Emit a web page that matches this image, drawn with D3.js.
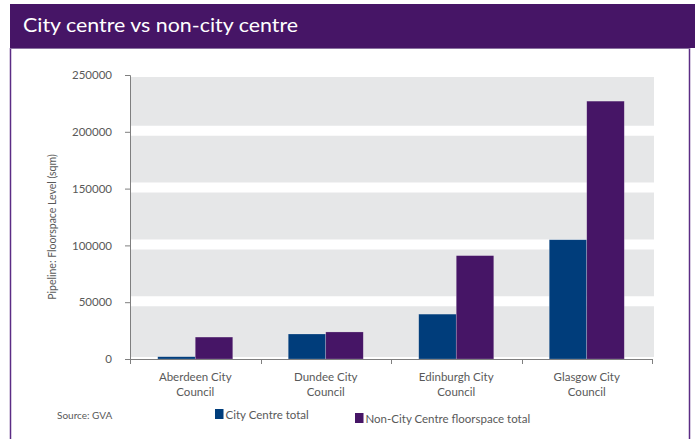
<!DOCTYPE html>
<html><head><meta charset="utf-8">
<script src="https://cdn.jsdelivr.net/npm/d3@7"></script>
<style>
body{margin:0;background:#fff;}
svg{display:block;font-family:Lato,"Open Sans",sans-serif;}
</style></head>
<body><svg id="c" width="695" height="439"></svg>
<script>
const categories = [["Aberdeen City","Council"],["Dundee City","Council"],["Edinburgh City","Council"],["Glasgow City","Council"]];
const seriesNames = ["City Centre total","Non-City Centre floorspace total"];
const cityCentre = [2000, 22000, 39500, 105000];
const nonCityCentre = [19300, 23800, 91000, 227000];
const yTicks = [0, 50000, 100000, 150000, 200000, 250000];
const colors = ["#003d7b", "#461566"];
const title = "City centre vs non-city centre";
const yTitle = "Pipeline: Floorspace Level (sqm)";
const source = "Source: GVA";

(function(){
const svg = d3.select("#c");
const purple = "#461566";

// header and frame
svg.append("rect").attr("x",10).attr("y",4).attr("width",685).attr("height",44).attr("fill",purple);
svg.append("text").attr("x",23).attr("y",32).attr("fill","#fff").attr("font-size",19)
  .attr("textLength",275).attr("lengthAdjust","spacingAndGlyphs").text(title);
svg.append("line").attr("x1",10.5).attr("x2",10.5).attr("y1",48).attr("y2",439).attr("stroke","#5b2c85").attr("stroke-width",1.5);
svg.append("line").attr("x1",689.5).attr("x2",689.5).attr("y1",48).attr("y2",439).attr("stroke","#5b2c85").attr("stroke-width",1.5);
svg.append("line").attr("x1",10).attr("x2",690).attr("y1",48.5).attr("y2",48.5).attr("stroke","#8a72a0").attr("stroke-width",1);

const pLeft = 130, pRight = 652, pTop = 75, pBottom = 359;
const x0 = d3.scaleBand().domain(d3.range(categories.length)).range([pLeft, pRight]).paddingInner(0.425).paddingOuter(0.2125);
const x1 = d3.scaleBand().domain([0,1]).range([0, x0.bandwidth()]);
const y = d3.scaleLinear().domain([0, 250000]).range([pBottom, pTop]);

// plot background bands
svg.append("rect").attr("x",pLeft+1).attr("y",y(250000)+2).attr("width",pRight+2-pLeft-1)
  .attr("height",y(0)-2-(y(250000)+2)).attr("fill","#e6e7e8");
svg.append("g").selectAll("line").data(yTicks.filter(t=>t>0 && t<250000)).join("line")
  .attr("x1",pLeft+1).attr("x2",pRight+2).attr("y1",d=>y(d)-1).attr("y2",d=>y(d)-1)
  .attr("stroke","#fff").attr("stroke-width",10);

// bars
const series = [cityCentre, nonCityCentre];
series.forEach((vals, s) => {
  svg.append("g").selectAll("rect").data(vals).join("rect")
    .attr("x",(d,i)=>x0(i)+x1(s)).attr("width",x1.bandwidth())
    .attr("y",d=>y(d)).attr("height",d=>y(0)-y(d))
    .attr("fill",colors[s]).attr("stroke","rgba(255,255,255,0.35)").attr("stroke-width",0.6);
});

// y axis
const yAxis = svg.append("g").attr("transform",`translate(${pLeft},0)`)
  .call(d3.axisLeft(y).tickValues(yTicks).tickFormat(d3.format("d")).tickSize(5).tickPadding(13));
yAxis.select(".domain").attr("stroke","#7f7f7f");
yAxis.selectAll(".tick line").attr("stroke","#7f7f7f");
yAxis.selectAll("text").attr("fill","#595959").attr("font-size",11.5).attr("font-family","Lato,sans-serif");

// x axis
const xAxis = svg.append("g").attr("transform",`translate(0,${pBottom})`);
xAxis.append("line").attr("x1",pLeft).attr("x2",pRight).attr("y1",0.5).attr("y2",0.5).attr("stroke","#7f7f7f");
const bounds = d3.range(categories.length+1).map(i => i < categories.length ? x0(i) - x0.step()*x0.paddingInner()/2 : pRight);
xAxis.selectAll(".xt").data(bounds).join("line").attr("class","xt")
  .attr("x1",d=>Math.round(d)+0.5).attr("x2",d=>Math.round(d)+0.5).attr("y1",0).attr("y2",5).attr("stroke","#7f7f7f");
const lbl = xAxis.selectAll(".xl").data(categories).join("text").attr("class","xl")
  .attr("x",(d,i)=>x0(i)+x0.bandwidth()/2).attr("text-anchor","middle").attr("fill","#595959").attr("font-size",11.5);
lbl.each(function(d){
  const t = d3.select(this);
  d.forEach((line,k)=>t.append("tspan").attr("x",t.attr("x")).attr("y",22+k*15).text(line));
});

// y title
svg.append("text").attr("transform",`translate(56,${(pTop+pBottom)/2+10}) rotate(-90)`)
  .attr("text-anchor","middle").attr("fill","#595959").attr("font-size",10.5).text(yTitle);

// source
svg.append("text").attr("x",57).attr("y",419).attr("fill","#595959").attr("font-size",10).text(source);

// legend
const legPos = [[215,409],[355,413]];
seriesNames.forEach((n,s)=>{
  svg.append("rect").attr("x",legPos[s][0]).attr("y",legPos[s][1]).attr("width",8.5).attr("height",10).attr("fill",colors[s]);
  svg.append("text").attr("x",legPos[s][0]+10.5).attr("y",legPos[s][1]+9.5).attr("fill","#595959").attr("font-size",11.5).text(n);
});
})();
</script></body></html>
